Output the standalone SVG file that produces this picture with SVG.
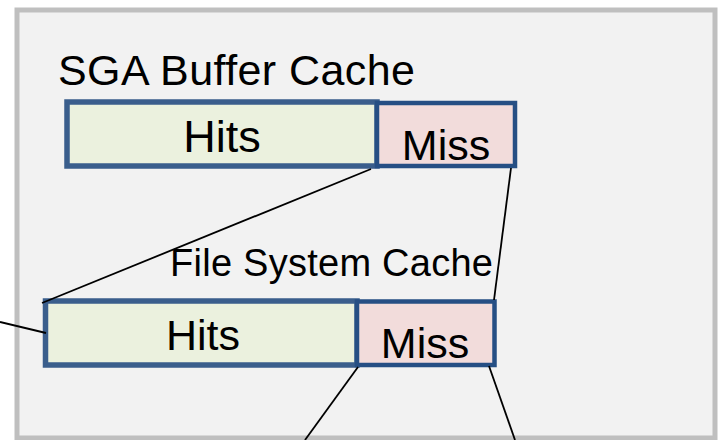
<svg xmlns="http://www.w3.org/2000/svg" width="721" height="440" viewBox="0 0 721 440">
  <style>
    .lbl { font-family: "Liberation Sans", Arial, sans-serif; fill: #000; }
    .hits { fill: #ebf1de; stroke: #3a5e8c; stroke-width: 5.5; }
    .miss { fill: #f2dcdb; stroke: #264f84; stroke-width: 4.5; }
    .conn line { stroke: #000; stroke-width: 1.8; fill: none; }
  </style>
  <rect id="frame" x="17" y="10" width="698" height="428" fill="#f2f2f2" stroke="#bfbfbf" stroke-width="5"/>
  <text id="sga-title" class="lbl" x="58" y="85" font-size="43" textLength="357" lengthAdjust="spacing">SGA Buffer Cache</text>
  <text id="fs-title" class="lbl" x="170" y="276" font-size="38" textLength="323" lengthAdjust="spacing">File System Cache</text>
  <g id="sga-hits">
    <rect class="hits" x="67" y="102" width="310" height="64"/>
    <text class="lbl" x="222" y="152" font-size="45" text-anchor="middle">Hits</text>
  </g>
  <g id="sga-miss">
    <rect class="miss" x="377" y="103" width="138" height="63"/>
    <text class="lbl" x="446" y="160" font-size="43" text-anchor="middle">Miss</text>
  </g>
  <g id="fs-hits">
    <rect class="hits" x="45.5" y="301" width="311.5" height="64"/>
    <text class="lbl" x="203" y="350" font-size="43" text-anchor="middle">Hits</text>
  </g>
  <g id="fs-miss">
    <rect class="miss" x="357" y="301.5" width="137.5" height="63.5"/>
    <text class="lbl" x="425" y="358" font-size="43" text-anchor="middle">Miss</text>
  </g>
  <g id="connectors" class="conn">
    <line x1="371" y1="169" x2="42" y2="303"/>
    <line x1="511" y1="168" x2="494" y2="300"/>
    <line x1="0" y1="322" x2="46" y2="333"/>
    <line x1="358" y1="367" x2="305" y2="440"/>
    <line x1="489" y1="366" x2="515" y2="440"/>
  </g>
</svg>
